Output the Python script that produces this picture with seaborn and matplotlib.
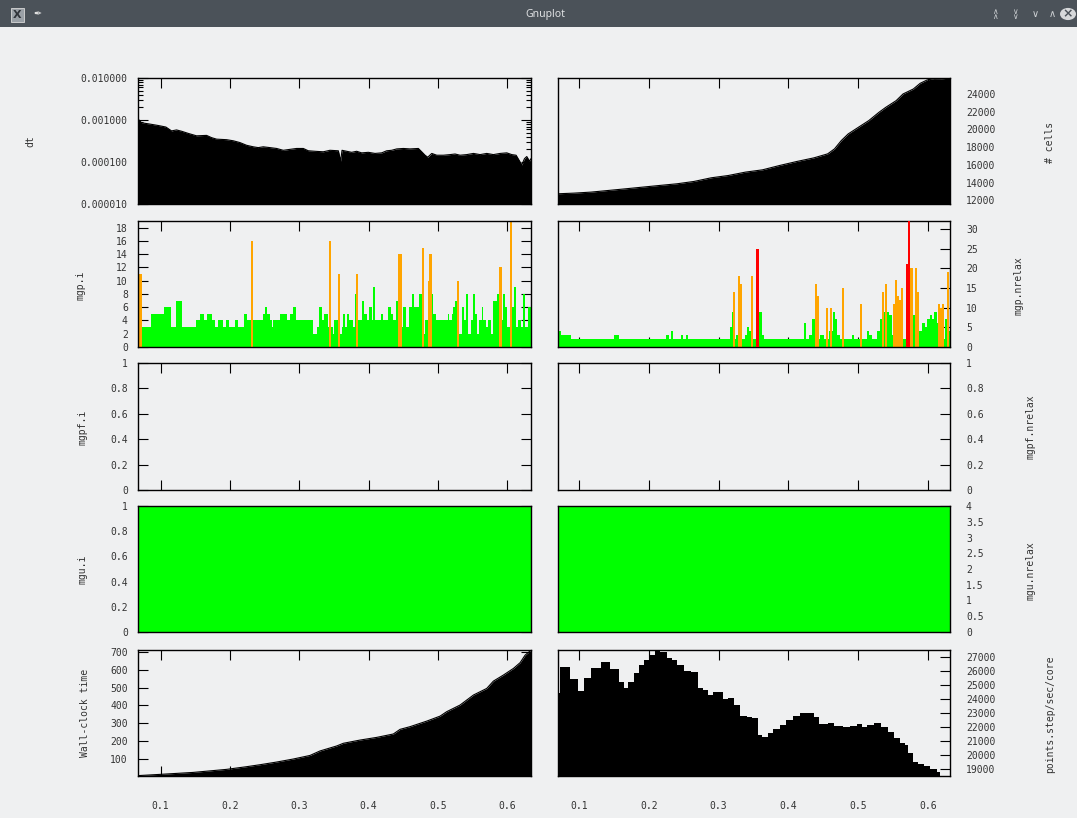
import matplotlib
matplotlib.use("Agg")
import matplotlib.pyplot as plt
from matplotlib.patches import Rectangle, Circle
from matplotlib.ticker import FixedLocator, FuncFormatter, NullFormatter, LogLocator
import seaborn as sns

# ---------------- run log ----------------
t_span = [0.0668, 0.6342]
time_ticks = [0.1, 0.2, 0.3, 0.4, 0.5, 0.6]

# time step
dt_t = [0.0678, 0.0726, 0.0846, 0.0966, 0.1077, 0.1159, 0.1231, 0.1303, 0.1399, 0.1519,
        0.1664, 0.1736, 0.1808, 0.1952, 0.2049, 0.2145, 0.2241, 0.2337, 0.2409, 0.2481,
        0.2578, 0.2674, 0.2770, 0.2866, 0.2962, 0.3059, 0.3131, 0.3227, 0.3347, 0.3443,
        0.3564, 0.3597, 0.3617, 0.3684, 0.3756, 0.3828, 0.3900, 0.3997, 0.4093, 0.4189,
        0.4261, 0.4333, 0.4406, 0.4502, 0.4598, 0.4718, 0.4766, 0.4814, 0.4853, 0.4911,
        0.4983, 0.5079, 0.5175, 0.5247, 0.5319, 0.5415, 0.5512, 0.5608, 0.5704, 0.5800,
        0.5897, 0.5993, 0.6065, 0.6127, 0.6170, 0.6209, 0.6248, 0.6281, 0.6320, 0.6342]
dt_v = [1.05e-3, 8.6e-4, 8.0e-4, 7.4e-4, 6.8e-4, 5.5e-4, 5.8e-4, 5.4e-4, 4.8e-4, 4.2e-4,
        4.3e-4, 3.8e-4, 3.5e-4, 3.4e-4, 3.2e-4, 2.9e-4, 2.5e-4, 2.3e-4, 2.2e-4, 2.3e-4,
        2.2e-4, 2.1e-4, 1.9e-4, 2.0e-4, 2.1e-4, 2.1e-4, 1.85e-4, 1.8e-4, 1.75e-4, 1.9e-4,
        1.85e-4, 1.05e-4, 1.9e-4, 1.8e-4, 1.7e-4, 1.8e-4, 1.65e-4, 1.7e-4, 1.6e-4, 1.65e-4,
        1.85e-4, 1.9e-4, 2.05e-4, 2.1e-4, 2.05e-4, 2.1e-4, 1.75e-4, 1.45e-4, 1.3e-4, 1.6e-4,
        1.45e-4, 1.45e-4, 1.5e-4, 1.55e-4, 1.45e-4, 1.5e-4, 1.6e-4, 1.5e-4, 1.6e-4, 1.5e-4,
        1.6e-4, 1.65e-4, 1.5e-4, 1.45e-4, 1.1e-4, 8.5e-5, 1.2e-4, 1.35e-4, 1.05e-4, 1.2e-4]

# number of cells
cells_t = [0.0690, 0.0926, 0.1172, 0.1418, 0.1664, 0.1909, 0.2155, 0.2401, 0.2647, 0.2893,
           0.3139, 0.3384, 0.3630, 0.3876, 0.4122, 0.4368, 0.4565, 0.4663, 0.4761, 0.4860,
           0.5007, 0.5155, 0.5302, 0.5400, 0.5548, 0.5646, 0.5794, 0.5892, 0.5991, 0.6089,
           0.6187, 0.6320]
cells_v = [12750, 12825, 12940, 13125, 13310, 13500, 13690, 13875, 14140, 14550,
           14810, 15190, 15450, 15940, 16390, 16800, 17250, 17810, 18750, 19500,
           20250, 21000, 21940, 22500, 23250, 24000, 24560, 25200, 25575, 25725,
           25690, 25800]

# multigrid (pressure) iterations, per step
mgp_i_t = [0.0668, 0.0735, 0.0856, 0.1048, 0.1149, 0.1216, 0.1313, 0.1510, 0.1567, 0.1625,
           0.1673, 0.1741, 0.1784, 0.1832, 0.1895, 0.1943, 0.1991, 0.2072, 0.2121, 0.2202,
           0.2241, 0.2471, 0.2501, 0.2539, 0.2578, 0.2602, 0.2626, 0.2722, 0.2818, 0.2866,
           0.2914, 0.2953, 0.3203, 0.3251, 0.3289, 0.3323, 0.3357, 0.3410, 0.3482, 0.3506,
           0.3588, 0.3612, 0.3636, 0.3665, 0.3693, 0.3722, 0.3770, 0.3799, 0.3843, 0.3900,
           0.3934, 0.3972, 0.4011, 0.4045, 0.4069, 0.4098, 0.4175, 0.4203, 0.4285, 0.4319,
           0.4357, 0.4396, 0.4463, 0.4502, 0.4540, 0.4579, 0.4627, 0.4655, 0.4723, 0.4790,
           0.4814, 0.4910, 0.4935, 0.4973, 0.5141, 0.5165, 0.5199, 0.5223, 0.5252, 0.5305,
           0.5343, 0.5377, 0.5406, 0.5440, 0.5473, 0.5512, 0.5536, 0.5560, 0.5598, 0.5632,
           0.5656, 0.5695, 0.5728, 0.5762, 0.5800, 0.5858, 0.5911, 0.5945, 0.5969, 0.5993,
           0.6065, 0.6099, 0.6127, 0.6161, 0.6195, 0.6223, 0.6257, 0.6305]
mgp_i_v = [3, 3, 5, 6, 3, 7, 3, 4, 5, 4,
           5, 4, 3, 4, 3, 4, 3, 4, 3, 5,
           4, 5, 6, 5, 4, 3, 4, 5, 4, 5,
           6, 4, 2, 3, 6, 4, 5, 3, 2, 4,
           2, 3, 5, 3, 5, 4, 3, 8, 4, 7,
           5, 4, 6, 4, 9, 4, 5, 4, 6, 5,
           4, 7, 3, 6, 3, 6, 8, 6, 8, 2,
           4, 8, 5, 4, 5, 4, 5, 6, 7, 2,
           6, 4, 8, 2, 4, 8, 5, 2, 4, 6,
           4, 3, 4, 2, 7, 8, 4, 8, 6, 3,
           6, 9, 3, 4, 3, 8, 3, 6]
mgp_i_end = 0.6342
# steps where the iteration count went high
mgp_i_hi_t = [0.0668, 0.0698, 0.0708, 0.2299, 0.3424, 0.3564, 0.3818, 0.4425, 0.4445,
              0.4766, 0.4853, 0.4877, 0.4885, 0.5281, 0.5887, 0.6041]
mgp_i_hi_v = [11, 11, 11, 16, 16, 11, 11, 14, 14,
              15, 10, 14, 14, 10, 12, 19]

# multigrid (pressure) relaxations, per step
mgp_nr_t = [0.0690, 0.0739, 0.0877, 0.1506, 0.1575, 0.2244, 0.2293, 0.2322, 0.2342, 0.2460,
            0.2490, 0.2529, 0.2568, 0.3163, 0.3188, 0.3212, 0.3247, 0.3276, 0.3384, 0.3409,
            0.3443, 0.3468, 0.3581, 0.3621, 0.3655, 0.4220, 0.4260, 0.4294, 0.4343, 0.4383,
            0.4456, 0.4515, 0.4589, 0.4638, 0.4673, 0.4702, 0.4737, 0.4909, 0.4948, 0.5130,
            0.5164, 0.5204, 0.5278, 0.5312, 0.5361, 0.5450, 0.5489, 0.5509, 0.5686, 0.5735,
            0.5794, 0.5818, 0.5882, 0.5917, 0.5966, 0.5990, 0.6040, 0.6064, 0.6089, 0.6128,
            0.6153, 0.6227, 0.6246, 0.6276]
mgp_nr_v = [4, 3, 2, 3, 2, 3, 2, 4, 2, 3,
            2, 3, 2, 5, 9, 2, 3, 2, 3, 5,
            4, 2, 9, 3, 2, 6, 2, 3, 7, 2,
            3, 2, 4, 9, 7, 3, 2, 3, 2, 4,
            3, 2, 4, 7, 9, 8, 3, 2, 4, 2,
            8, 2, 4, 6, 5, 7, 8, 7, 9, 6,
            5, 2, 7, 4]
mgp_nr_end = 0.6320
mgp_nr_hi_t = [0.3212, 0.3276, 0.3306, 0.3468, 0.4383, 0.4413, 0.4540, 0.4599, 0.4776,
               0.5022, 0.5341, 0.5386, 0.5509, 0.5533, 0.5558, 0.5588, 0.5603, 0.5622,
               0.5735, 0.5765, 0.5818, 0.5848, 0.6153, 0.6177, 0.6202, 0.6276]
mgp_nr_hi_v = [14, 18, 16, 18, 16, 13, 10, 10, 15,
               11, 14, 16, 11, 17, 13, 12, 10, 15,
               20, 20, 20, 14, 11, 10, 11, 19]
mgp_nr_max_t = [0.3542, 0.5695, 0.5715]
mgp_nr_max_v = [25, 21, 32]

# multigrid (velocity)
mgu_t = [0.0668, 0.6342]
mgu_i = [1, 1]
mgu_nrelax = [4, 4]

# wall-clock time
wall_t = [0.0668, 0.0990, 0.1470, 0.1950, 0.2240, 0.2433, 0.2674, 0.2914, 0.3155, 0.3299,
          0.3540, 0.3636, 0.3876, 0.4117, 0.4357, 0.4454, 0.4598, 0.4838, 0.5031, 0.5127,
          0.5319, 0.5512, 0.5704, 0.5800, 0.5945, 0.6089, 0.6185, 0.6257, 0.6342]
wall_v = [7, 14, 25, 42, 57, 68, 83, 100, 120, 145,
          173, 188, 206, 221, 240, 266, 281, 312, 340, 365,
          402, 458, 495, 536, 570, 607, 639, 681, 709]

# throughput
pts_t = [0.0690, 0.0729, 0.0867, 0.0985, 0.1064, 0.1172, 0.1319, 0.1442, 0.1565, 0.1639,
         0.1703, 0.1787, 0.1860, 0.1934, 0.2008, 0.2082, 0.2155, 0.2254, 0.2327, 0.2401,
         0.2499, 0.2598, 0.2706, 0.2770, 0.2844, 0.2917, 0.3001, 0.3070, 0.3139, 0.3227,
         0.3311, 0.3409, 0.3483, 0.3562, 0.3621, 0.3704, 0.3778, 0.3876, 0.3974, 0.4073,
         0.4171, 0.4270, 0.4368, 0.4442, 0.4565, 0.4663, 0.4786, 0.4884, 0.4983, 0.5056,
         0.5130, 0.5228, 0.5327, 0.5425, 0.5523, 0.5597, 0.5671, 0.5720, 0.5794, 0.5868,
         0.5941, 0.6040, 0.6138, 0.6177]
pts_v = [24460, 26280, 25420, 24600, 25490, 26210, 26640, 26160, 25250, 24820,
         25250, 25850, 26450, 26810, 27170, 27480, 27410, 26930, 26810, 26450,
         26040, 25970, 24770, 24650, 24290, 24490, 24540, 23980, 24050, 23580,
         22780, 22740, 22620, 21420, 21300, 21540, 21830, 22140, 22500, 22780,
         22980, 23030, 22740, 22210, 22260, 22070, 21970, 22070, 22210, 22020,
         22140, 22260, 21970, 21660, 21180, 20820, 20700, 20100, 19500, 19340,
         19190, 18950, 18780, 18500]
pts_end = 0.6320

# ---------------- styling ----------------
BG = "#eff0f1"
TXT = "#333333"
GREEN = "#00ff00"
ORANGE = "#ffa500"
RED = "#ff0000"

sns.set_style("ticks", {"axes.facecolor": BG, "figure.facecolor": BG,
                        "axes.edgecolor": "black", "xtick.color": "black",
                        "ytick.color": "black", "text.color": TXT,
                        "axes.labelcolor": TXT})
plt.rcParams["font.family"] = ["DejaVu Sans Mono", "DejaVu Sans"]
FS = 7

W, H = 1077, 818
fig = plt.figure(figsize=(W / 100, H / 100), dpi=100, facecolor=BG)


def rect(x0, x1, y0, y1):
    return [x0 / W, 1 - y1 / H, (x1 - x0) / W, (y1 - y0) / H]


COLS = {"left": (137.5, 531), "right": (557.5, 950)}
ROWS = [(78, 204), (221, 347), (363, 490), (506, 632), (650, 776)]
XLIM = {"left": (0.0668, 0.6342), "right": (0.0690, 0.6320)}

gfmt = FuncFormatter(lambda v, p: "%g" % v)


def panel(col, row, ylim, yticks, fmt=gfmt, log=False, xlabels=False):
    ax = fig.add_axes(rect(*COLS[col], *ROWS[row]))
    ax.set_facecolor("none")
    if log:
        ax.set_yscale("log")
    ax.set_axisbelow(True)
    for s in ax.spines.values():
        s.set_visible(True)
        s.set_linewidth(1.0)
        s.set_color("black")
    ax.set_xlim(*XLIM[col])
    ax.set_ylim(*ylim)
    ax.xaxis.set_major_locator(FixedLocator(time_ticks))
    ax.xaxis.set_major_formatter(gfmt)
    ax.yaxis.set_major_locator(FixedLocator(yticks))
    ax.yaxis.set_major_formatter(fmt)
    if log:
        ax.yaxis.set_minor_locator(LogLocator(base=10, subs=range(2, 10)))
        ax.yaxis.set_minor_formatter(NullFormatter())
    ax.tick_params(axis="x", which="both", direction="in", top=True, bottom=True,
                   length=7.2, width=0.8, labelbottom=xlabels, labeltop=False,
                   pad=18, labelsize=FS, labelcolor=TXT)
    if col == "left":
        ax.tick_params(axis="y", which="both", direction="in", left=True, right=True,
                       labelleft=True, labelright=False, pad=7, labelsize=FS,
                       labelcolor=TXT, width=0.8)
    else:
        ax.tick_params(axis="y", which="both", direction="in", left=False, right=True,
                       labelleft=False, labelright=True, pad=11.5, labelsize=FS,
                       labelcolor=TXT, width=0.8)
    ax.tick_params(axis="y", which="major", length=7.2)
    ax.tick_params(axis="y", which="minor", length=3.6)
    return ax


def finish(ax, col):
    ax.set_xlim(*XLIM[col])
    ax.set_xlabel("")
    ax.set_ylabel("")


def step_fill(ax, starts, values, end, color):
    sns.histplot(x=starts, weights=values, bins=list(starts) + [end], element="step",
                 fill=True, color=color, alpha=1, linewidth=0, ax=ax, zorder=1)


# row 1: dt / # cells
ax = panel("left", 0, (1e-5, 1e-2), [1e-5, 1e-4, 1e-3, 1e-2],
           fmt=FuncFormatter(lambda v, p: "%f" % v), log=True)
ax.fill_between(dt_t, 1e-6, dt_v, color="black", linewidth=0, zorder=1)
sns.lineplot(x=dt_t, y=dt_v, color="black", linewidth=0.8, ax=ax, zorder=1)
ax.set_ylim(1e-5, 1e-2)
finish(ax, "left")

ax = panel("right", 0, (11600, 25800), list(range(12000, 24001, 2000)))
ax.fill_between(cells_t, 0, cells_v, color="black", linewidth=0, zorder=1)
sns.lineplot(x=cells_t, y=cells_v, color="black", linewidth=0.8, ax=ax, zorder=1)
ax.set_ylim(11600, 25800)
finish(ax, "right")

# row 2: pressure multigrid
ax = panel("left", 1, (0, 19), list(range(0, 19, 2)))
step_fill(ax, mgp_i_t, mgp_i_v, mgp_i_end, GREEN)
ax.bar(mgp_i_hi_t, mgp_i_hi_v, width=0.003, align="edge", color=ORANGE,
       linewidth=0, zorder=2)
ax.set_ylim(0, 19)
finish(ax, "left")

ax = panel("right", 1, (0, 32), list(range(0, 31, 5)))
step_fill(ax, mgp_nr_t, mgp_nr_v, mgp_nr_end, GREEN)
ax.bar(mgp_nr_hi_t, mgp_nr_hi_v, width=0.003, align="edge", color=ORANGE,
       linewidth=0, zorder=2)
ax.bar(mgp_nr_max_t, mgp_nr_max_v, width=0.0038, align="edge", color=RED,
       linewidth=0, zorder=3)
ax.set_ylim(0, 32)
finish(ax, "right")

# row 3: empty multigrid panels
ax = panel("left", 2, (0, 1), [0, 0.2, 0.4, 0.6, 0.8, 1])
finish(ax, "left")
ax = panel("right", 2, (0, 1), [0, 0.2, 0.4, 0.6, 0.8, 1])
finish(ax, "right")

# row 4: velocity multigrid
ax = panel("left", 3, (0, 1), [0, 0.2, 0.4, 0.6, 0.8, 1])
ax.fill_between(mgu_t, 0, mgu_i, color=GREEN, linewidth=0, zorder=1)
finish(ax, "left")
ax = panel("right", 3, (0, 4), [0, 0.5, 1, 1.5, 2, 2.5, 3, 3.5, 4])
ax.fill_between(mgu_t, 0, mgu_nrelax, color=GREEN, linewidth=0, zorder=1)
finish(ax, "right")

# row 5: wall-clock / throughput
ax = panel("left", 4, (5, 710), list(range(100, 701, 100)), xlabels=True)
ax.fill_between(wall_t, 0, wall_v, color="black", linewidth=0, zorder=1)
sns.lineplot(x=wall_t, y=wall_v, color="black", linewidth=0.8, ax=ax, zorder=1)
ax.set_ylim(5, 710)
finish(ax, "left")

ax = panel("right", 4, (18475, 27520), list(range(19000, 27001, 1000)), xlabels=True)
step_fill(ax, pts_t, pts_v, pts_end, "black")
ax.set_ylim(18475, 27520)
finish(ax, "right")

# axis titles
ylabels = [("dt", 30, 141), ("mgp.i", 81, 285), ("mgpf.i", 82, 427),
           ("mgu.i", 82, 569), ("Wall-clock time", 85, 713),
           ("# cells", 1050, 142), ("mgp.nrelax", 1018, 286), ("mgpf.nrelax", 1030, 427),
           ("mgu.nrelax", 1030, 571), ("points.step/sec/core", 1050, 714)]
for text, px, py in ylabels:
    fig.text(px / W, 1 - py / H, text, rotation=90, ha="center", va="center",
             fontsize=FS, color=TXT)

# window title bar
fig.patches.append(Rectangle((0, 1 - 27 / H), 1, 27 / H, transform=fig.transFigure,
                             facecolor="#4b5259", edgecolor="none", zorder=0))
fig.text(545 / W, 1 - 14 / H, "Gnuplot", ha="center", va="center", fontsize=7.5,
         color="#dfe1e3", family="Noto Sans")
fig.patches.append(Rectangle((11 / W, 1 - 22 / H), 13 / W, 14 / H, transform=fig.transFigure,
                             facecolor="#9aa0a6", edgecolor="#d8d8d8", linewidth=0.6, zorder=1))
fig.text(17.5 / W, 1 - 15 / H, "X", ha="center", va="center", fontsize=8,
         color="#30343a", family="DejaVu Sans", weight="bold")
fig.text(37 / W, 1 - 14 / H, "\u2712", ha="center", va="center", fontsize=7,
         color="#e0e0e0", family="DejaVu Sans")
for px, glyph in [(995, "\u2227\n\u2227"), (1015, "\u2228\n\u2228")]:
    fig.text(px / W, 1 - 14 / H, glyph, ha="center", va="center", fontsize=5.5,
             linespacing=0.55, color="#cfd2d5", family="DejaVu Sans")
for px, glyph in [(1035, "\u2228"), (1052, "\u2227")]:
    fig.text(px / W, 1 - 14 / H, glyph, ha="center", va="center", fontsize=7,
             color="#cfd2d5", family="DejaVu Sans")
fig.patches.append(Circle((1068 / W, 1 - 14 / H), 8 / W, transform=fig.transFigure,
                          facecolor="#d6d8da", edgecolor="none", zorder=1))
fig.text(1068 / W, 1 - 14 / H, "\u00d7", ha="center", va="center", fontsize=9,
         color="#4b5259", family="DejaVu Sans", weight="bold")

fig.savefig("out.png", dpi=100, facecolor=BG)
